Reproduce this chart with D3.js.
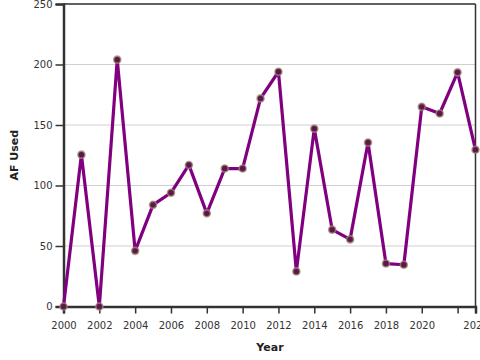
<!DOCTYPE html>
<html><head><meta charset="utf-8">
<script src="https://cdn.jsdelivr.net/npm/d3@7"></script>
<style>body{margin:0;background:#fff}svg{display:block}</style>
</head><body><svg id="c" width="480" height="360"></svg>
<script>
const years = [2000,2001,2002,2003,2004,2005,2006,2007,2008,2009,2010,2011,2012,2013,2014,2015,2016,2017,2018,2019,2020,2021,2022,2023];
const afUsed = [0,125.5,0,204,46,84,94,117,77,114,114,172,194,29,147,63.5,55.5,135.5,35.5,34.5,165,159.5,193.5,129.5];
const xTicks = [2000,2002,2004,2006,2008,2010,2012,2014,2016,2018,2020,2022,2023];
const xTickLabels = ["2000","2002","2004","2006","2008","2010","2012","2014","2016","2018","2020","","2023"];
const yTicks = [0,50,100,150,200,250];

const svg = d3.select("#c");
const m = {l:63.5, r:4.5, t:4, b:53.5};
const W = 480, H = 360;
const x = d3.scaleLinear().domain([2000,2023]).range([m.l, W-m.r]);
const y = d3.scaleLinear().domain([0,250]).range([H-m.b, m.t]);
const font = "DejaVu Sans, sans-serif";

// grid
svg.append("g").selectAll("line").data(yTicks.slice(1)).join("line")
  .attr("x1", m.l).attr("x2", W-m.r).attr("y1", d=>y(d)).attr("y2", d=>y(d))
  .attr("stroke","#d0d0d0").attr("stroke-width",1);

// frame top & right
svg.append("line").attr("x1",m.l).attr("x2",W-m.r).attr("y1",m.t).attr("y2",m.t).attr("stroke","#333").attr("stroke-width",1.5);
svg.append("line").attr("x1",W-m.r).attr("x2",W-m.r).attr("y1",m.t).attr("y2",H-m.b).attr("stroke","#333").attr("stroke-width",1.5);

// axes
const xAxis = svg.append("g").attr("transform",`translate(0,${H-m.b})`)
  .call(d3.axisBottom(x).tickValues(xTicks).tickFormat((d,i)=>xTickLabels[i]).tickSize(7).tickPadding(8));
const yAxis = svg.append("g").attr("transform",`translate(${m.l},0)`)
  .call(d3.axisLeft(y).tickValues(yTicks).tickSize(8).tickPadding(3));
[xAxis,yAxis].forEach(g=>{
  g.select(".domain").attr("stroke","#333").attr("stroke-width",2.5);
  g.selectAll(".tick line").attr("stroke","#333").attr("stroke-width",1.5);
  g.selectAll(".tick text").attr("fill","#333").style("font-family",font).style("font-size","10px");
});

// line
const pts = years.map((yr,i)=>({yr, v: afUsed[i]}));
svg.append("path").datum(pts)
  .attr("fill","none").attr("stroke","#800080").attr("stroke-width",3.2).attr("stroke-linejoin","round")
  .attr("d", d3.line().x(d=>x(d.yr)).y(d=>y(d.v)));
svg.append("g").selectAll("circle").data(pts).join("circle")
  .attr("cx", d=>x(d.yr)).attr("cy", d=>y(d.v)).attr("r",3.5)
  .attr("fill","#5e1650").attr("stroke","rgba(160,140,110,0.75)").attr("stroke-width",1.6);

// labels
svg.append("text").attr("x",270).attr("y",351).attr("text-anchor","middle")
  .style("font-family",font).style("font-size","11px").style("font-weight","bold").attr("fill","#222").text("Year");
svg.append("text").attr("transform",`translate(18,${(m.t+H-m.b)/2}) rotate(-90)`).attr("text-anchor","middle")
  .style("font-family",font).style("font-size","11px").style("font-weight","bold").attr("fill","#222").text("AF Used");
</script></body></html>
